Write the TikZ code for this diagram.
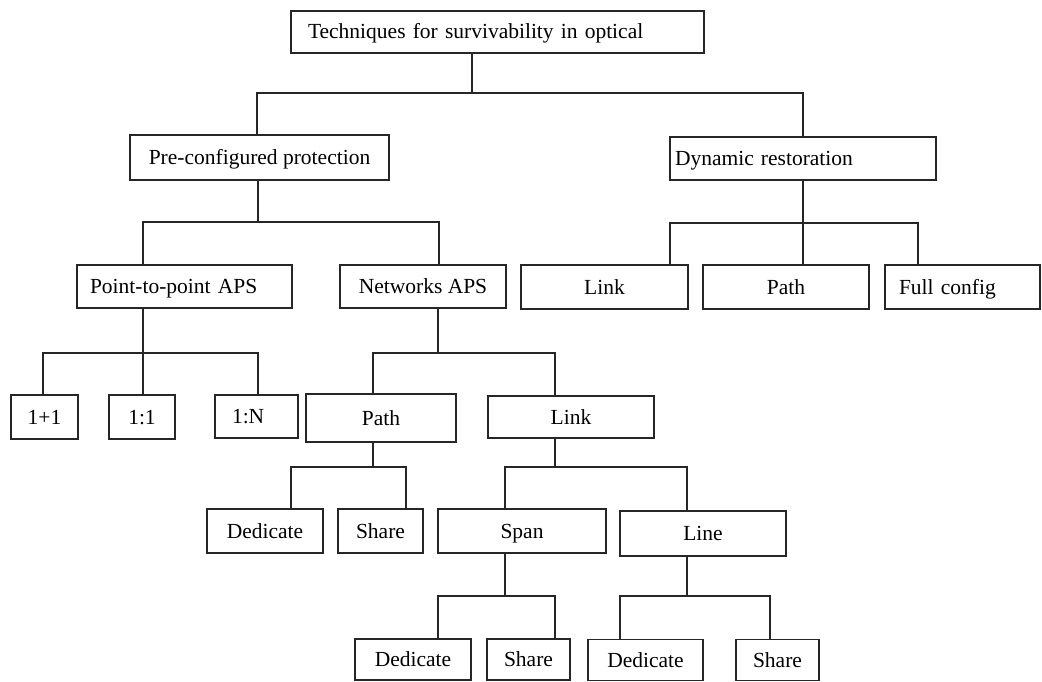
\documentclass[tikz,border=0pt]{standalone}
\usepackage{fontspec}
\setmainfont{Liberation Serif}
\begin{document}
\begin{tikzpicture}[x=1pt, y=-1pt,
  box/.style={draw=black!85, line width=1.2pt, rectangle, inner sep=0pt,
    text height=16pt, text depth=2pt,
    font=\fontsize{21.5}{24}\selectfont},
  lbox/.style={box, align=left, inner xsep=#1},
  conn/.style={draw=black!85, line width=1.3pt}]
\fill[white] (0,0) rectangle (1042,682);
\useasboundingbox (0,0) rectangle (1042,682);

% ---- boxes ----
\node[lbox=17pt, text width=379pt, minimum height=42pt] (top) at (497.5,32) {Techniques for survivability in optical};

\node[box, minimum width=259pt, minimum height=45pt] (pre) at (259.5,157.5) {Pre-configured protection};
\node[lbox=5pt, text width=256pt, minimum height=43pt] (dyn) at (803,158.5) {Dynamic restoration};

\node[lbox=13pt, text width=189pt, minimum height=43pt] (p2p) at (184.5,286.5) {Point-to-point APS};
\node[box, minimum width=166pt, minimum height=43pt] (net) at (423,286.5) {Networks APS};
\node[box, minimum width=167pt, minimum height=44pt] (dlink) at (604.5,287) {Link};
\node[box, minimum width=166pt, minimum height=44pt] (dpath) at (786,287) {Path};
\node[lbox=14pt, text width=127pt, minimum height=44pt] (full) at (962.5,287) {Full config};

\node[box, minimum width=67pt, minimum height=44pt] (pa) at (44.5,417) {1+1};
\node[box, minimum width=66pt, minimum height=44pt] (pb) at (142,417) {1:1};
\node[lbox=17pt, text width=49pt, minimum height=43pt] (pc) at (256.5,416.5) {1:N};
\node[box, minimum width=150pt, minimum height=48pt] (npath) at (381,418) {Path};
\node[box, minimum width=166pt, minimum height=42pt] (nlink) at (571,417) {Link};

\node[box, minimum width=116pt, minimum height=44pt] (pded) at (265,531) {Dedicate};
\node[box, minimum width=85pt, minimum height=44pt] (pshr) at (380.5,531) {Share};
\node[box, minimum width=168pt, minimum height=44pt] (span) at (522,531) {Span};
\node[box, minimum width=166pt, minimum height=45pt] (line) at (703,533.5) {Line};

\node[box, minimum width=116pt, minimum height=41pt] (sded) at (413,659.5) {Dedicate};
\node[box, minimum width=83pt, minimum height=41pt] (sshr) at (528.5,659.5) {Share};
\node[box, minimum width=115pt, minimum height=41pt] (lded) at (645.5,660) {Dedicate};
\node[box, minimum width=83pt, minimum height=41pt] (lshr) at (777.5,660) {Share};

% ---- bus junctions ----
\coordinate (j0) at (472,93);  \coordinate (b0l) at (257,93);  \coordinate (b0r) at (803,93);
\coordinate (j1) at (258,222); \coordinate (b1l) at (143,222); \coordinate (b1r) at (439,222);
\coordinate (j2) at (803,223); \coordinate (b2l) at (670,223); \coordinate (b2r) at (918,223);
\coordinate (j3) at (143,353); \coordinate (b3l) at (43,353);  \coordinate (b3r) at (258,353);
\coordinate (j4) at (438,353); \coordinate (b4l) at (373,353); \coordinate (b4r) at (555,353);
\coordinate (j5) at (373,467); \coordinate (b5l) at (291,467); \coordinate (b5r) at (406,467);
\coordinate (j6) at (555,467); \coordinate (b6l) at (505,467); \coordinate (b6r) at (687,467);
\coordinate (j7) at (505,596); \coordinate (b7l) at (438,596); \coordinate (b7r) at (555,596);
\coordinate (j8) at (687,596); \coordinate (b8l) at (620,596); \coordinate (b8r) at (770,596);

% ---- connectors ----
\draw[conn] (top.south -| j0) -- (j0);
\draw[conn] (pre.north -| b0l) -- (b0l) -- (b0r) -- (dyn.north -| b0r);

\draw[conn] (pre.south -| j1) -- (j1);
\draw[conn] (p2p.north -| b1l) -- (b1l) -- (b1r) -- (net.north -| b1r);

\draw[conn] (dyn.south -| j2) -- (j2) -- (dpath.north -| j2);
\draw[conn] (dlink.north -| b2l) -- (b2l) -- (b2r) -- (full.north -| b2r);

\draw[conn] (p2p.south -| j3) -- (j3) -- (pb.north -| j3);
\draw[conn] (pa.north -| b3l) -- (b3l) -- (b3r) -- (pc.north -| b3r);

\draw[conn] (net.south -| j4) -- (j4);
\draw[conn] (npath.north -| b4l) -- (b4l) -- (b4r) -- (nlink.north -| b4r);

\draw[conn] (npath.south -| j5) -- (j5);
\draw[conn] (pded.north -| b5l) -- (b5l) -- (b5r) -- (pshr.north -| b5r);

\draw[conn] (nlink.south -| j6) -- (j6);
\draw[conn] (span.north -| b6l) -- (b6l) -- (b6r) -- (line.north -| b6r);

\draw[conn] (span.south -| j7) -- (j7);
\draw[conn] (sded.north -| b7l) -- (b7l) -- (b7r) -- (sshr.north -| b7r);

\draw[conn] (line.south -| j8) -- (j8);
\draw[conn] (lded.north -| b8l) -- (b8l) -- (b8r) -- (lshr.north -| b8r);
\end{tikzpicture}
\end{document}
